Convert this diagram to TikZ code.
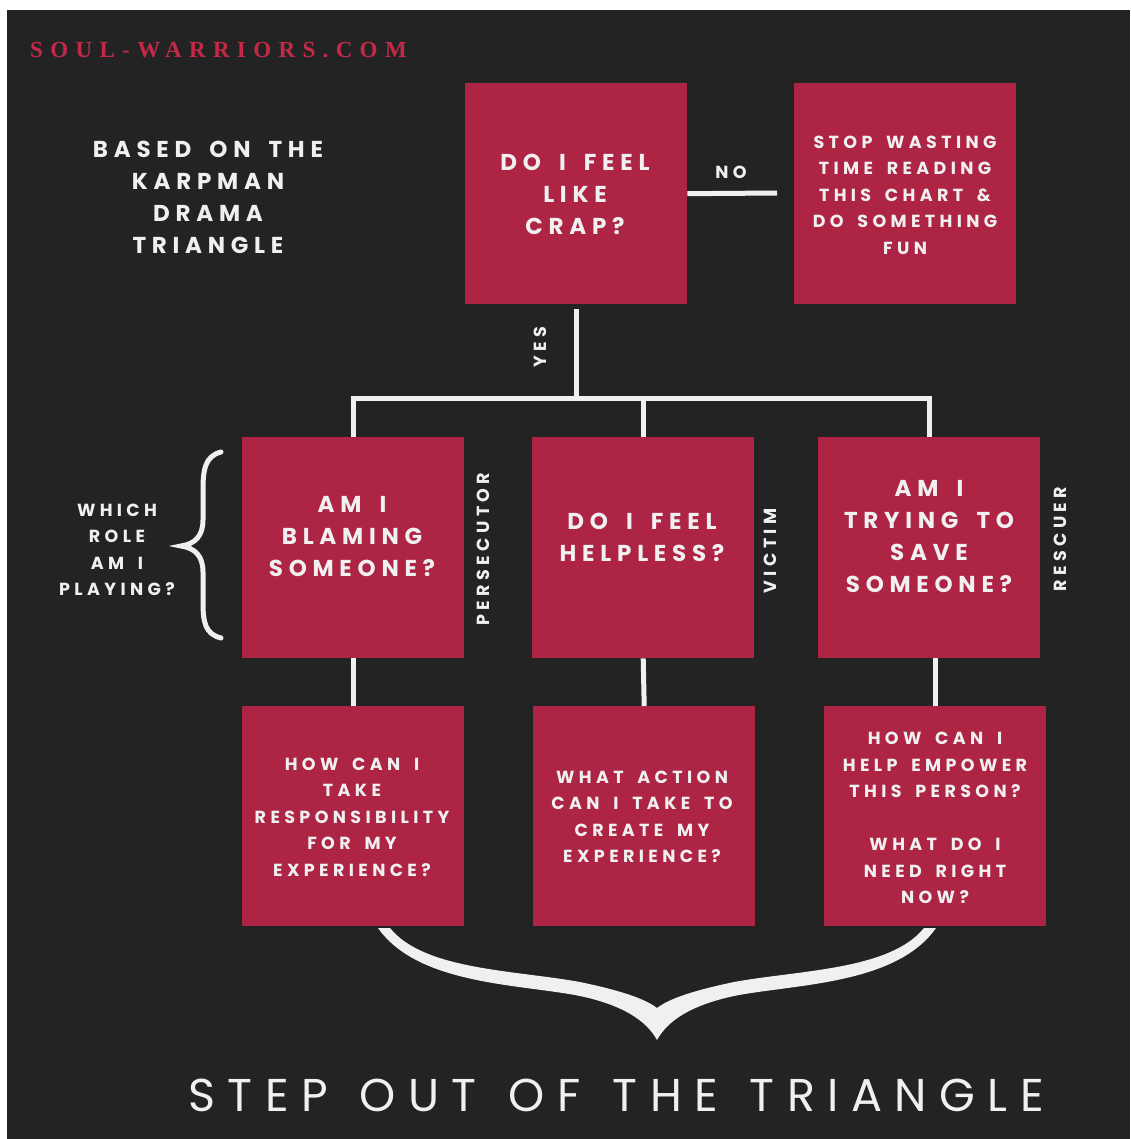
\documentclass[tikz,border=0pt]{standalone}
\usepackage{fontspec}
\setmainfont{Poppins}
\newfontfamily\mfont[LetterSpace=25,WordSpace=1.7]{Poppins}
\newfontfamily\tfont[LetterSpace=27,WordSpace=1.3]{Poppins}
\newfontfamily\webfont[LetterSpace=32]{Liberation Serif}
\definecolor{bgdark}{RGB}{35,35,35}
\definecolor{crimson}{RGB}{173,36,69}
\definecolor{webred}{RGB}{196,42,72}
\definecolor{txt}{RGB}{240,240,240}
\newcommand\fbig{\mfont\bfseries\fontsize{23}{32}\selectfont}
\newcommand\fsmall{\mfont\bfseries\fontsize{17.5}{26.5}\selectfont}
\begin{document}
\begin{tikzpicture}[x=1pt,y=-1pt,
  box/.style={fill=crimson,inner sep=0pt,anchor=north west,minimum width=222pt,minimum height=221pt},
  bigtxt/.style={text=txt,align=center,inner sep=0pt,font=\fbig},
  smalltxt/.style={text=txt,align=center,inner sep=0pt,font=\fsmall},
  sidelbl/.style={text=txt,inner sep=0pt,rotate=90,font=\fsmall},
  conn/.style={draw=txt,line width=5pt}]
\useasboundingbox (0,0) rectangle (1130,1139);
\fill[white] (0,0) rectangle (1130,1139);
\fill[bgdark] (7,10) rectangle (1130,1139);

% website
\node[anchor=west,text=webred,inner sep=0pt,font=\webfont\bfseries\fontsize{23}{24}\selectfont] (web) at (30,50) {SOUL-WARRIORS.COM};

% intro text
\node[bigtxt] (intro) at (208,197) {BASED ON THE\\KARPMAN\\DRAMA\\TRIANGLE};

% top boxes
\node[box] (t1) at (465,83) {};
\node[box] (t2) at (794,83) {};
\node[bigtxt] (t1t) at (575,194) {DO I FEEL\\LIKE\\CRAP?};
\node[smalltxt] (t2t) at (905,195) {STOP WASTING\\TIME READING\\THIS CHART \&\\DO SOMETHING\\FUN};

% middle boxes
\node[box] (a) at (242,437) {};
\node[box] (b) at (532,437) {};
\node[box] (c) at (818,437) {};
\node[bigtxt] (at) at (352,537) {AM I\\BLAMING\\SOMEONE?};
\node[bigtxt] (bt) at (642,537) {DO I FEEL\\HELPLESS?};
\node[bigtxt] (ct) at (929,537) {AM I\\TRYING TO\\SAVE\\SOMEONE?};

% bottom boxes
\node[box,minimum height=220pt] (d) at (242,706) {};
\node[box,minimum height=220pt] (e) at (533,706) {};
\node[box,minimum height=220pt] (f) at (824,706) {};
\node[smalltxt] (dt) at (352,817) {HOW CAN I\\TAKE\\RESPONSIBILITY\\FOR MY\\EXPERIENCE?};
\node[smalltxt] (et) at (642,817) {WHAT ACTION\\CAN I TAKE TO\\CREATE MY\\EXPERIENCE?};
\node[smalltxt] (ft) at (935,818) {HOW CAN I\\HELP EMPOWER\\THIS PERSON?\\\mbox{}\\WHAT DO I\\NEED RIGHT\\NOW?};

% side labels
\node[sidelbl] (pers) at (483,549) {PERSECUTOR};
\node[sidelbl] (vict) at (770,551) {VICTIM};
\node[sidelbl] (resc) at (1060,539) {RESCUER};
\node[sidelbl] (yes) at (540,347) {YES};
\node[text=txt,inner sep=0pt,font=\fsmall] (no) at (731,172) {NO};
\node[smalltxt] (which) at (117,550) {WHICH\\ROLE\\AM I\\PLAYING?};

% connectors
\coordinate (noend) at (777,193);
\coordinate (hub) at (576,398);
\draw[conn] (t1.east) -- (noend);
\draw[conn,shorten <=5pt] (t1.south) -- (t1.south |- hub);
\draw[conn] (a.north) -- (a.north |- hub) -| (c.north);
\draw[conn] (b.north) -- (b.north |- hub);
\draw[conn] (a.south) -- (d.north);
\draw[conn] (b.south) -- (e.north);
\draw[conn] (f.north) -- (f.north |- c.south);

% left brace
\draw[txt,line width=5pt,line cap=round] (221,452) .. controls (205,456) and (203,470) .. (203,490)
  -- (203,520) .. controls (203,536) and (195,544) .. (181,546)
  .. controls (195,548) and (203,556) .. (203,572)
  -- (203,602) .. controls (203,622) and (205,634) .. (221,638);

% bottom brace
\fill[txt] (378,928) .. controls (418,985) and (520,984) .. (580,996)
  .. controls (622,1005) and (646,1020) .. (657,1040)
  .. controls (668,1020) and (692,1005) .. (734,996)
  .. controls (794,984) and (896,985) .. (936,928)
  -- (924,928) .. controls (890,970) and (800,970) .. (734,982)
  .. controls (696,990) and (670,998) .. (657,1008)
  .. controls (644,998) and (618,990) .. (580,982)
  .. controls (514,970) and (424,970) .. (390,928) -- cycle;

% title
\node[text=txt,inner sep=0pt,font=\tfont\fontsize{46}{50}\selectfont] (title) at (616,1095) {STEP OUT OF THE TRIANGLE};
\end{tikzpicture}
\end{document}
